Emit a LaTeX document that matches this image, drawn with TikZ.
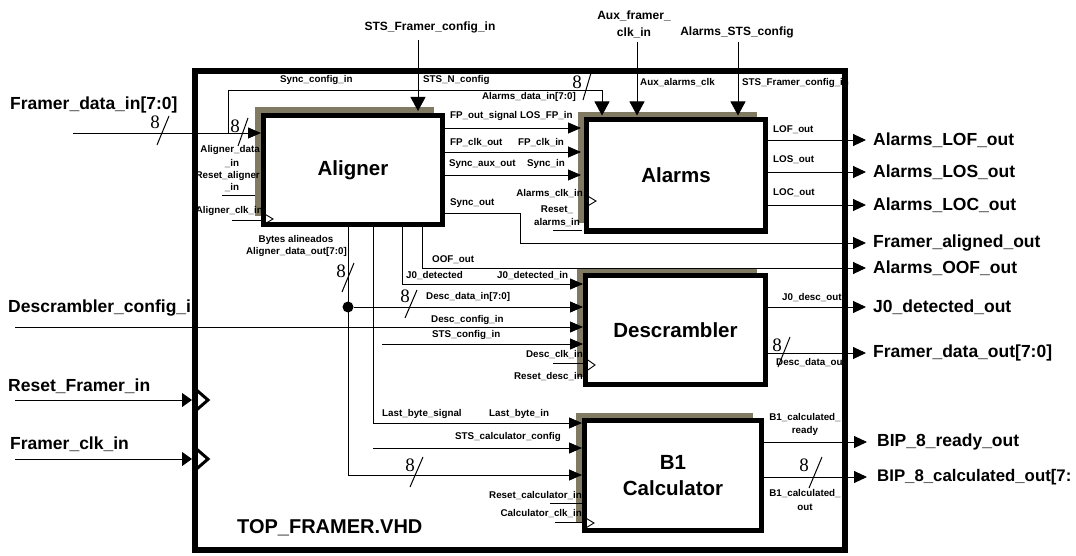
\documentclass[tikz,border=0pt]{standalone}
\usepackage{fontspec}
\setmainfont{Liberation Sans}
\newfontfamily\numfont{Liberation Serif}
\usetikzlibrary{arrows.meta,shadows}
\definecolor{shadowc}{RGB}{128,122,98}
\begin{document}
\begin{tikzpicture}[x=1pt,y=-1pt,
 sig/.style={line width=0.9pt},
 ar/.style={sig,-{Triangle[length=13pt,width=11pt]}},
 arbig/.style={sig,-{Triangle[length=13pt,width=12pt]},shorten >=7pt},
 artop/.style={sig,-{Triangle[length=14pt,width=15pt]},shorten >=2pt},
 arin/.style={sig,-{Triangle[length=10pt,width=14pt]}},
 block/.style={draw,line width=5pt,fill=white,inner sep=0pt,align=center,
   font=\fontsize{20.5}{26}\selectfont\bfseries,
   general shadow={fill=shadowc,shadow xshift=-9pt,shadow yshift=8pt}},
 outerbox/.style={draw,line width=6pt,inner sep=0pt},
 sl/.style={font=\fontsize{9.8}{13.5}\selectfont\bfseries,inner sep=0pt,align=center},
 ml/.style={font=\fontsize{12}{17}\selectfont\bfseries,inner sep=0pt,align=center},
 bl/.style={font=\fontsize{17.5}{20}\selectfont\bfseries,inner sep=0pt,anchor=west},
 bus/.style={font=\fontsize{19}{20}\selectfont\numfont,inner sep=0pt},
 slash/.style={line width=1pt},
 clk/.style={line width=0.9pt},
 clkbig/.style={line width=3pt},
 junction/.style={circle,fill,inner sep=0pt,minimum size=11pt},
]
\useasboundingbox (0,0) rectangle (1076,556);

% outer frame
\node[outerbox,minimum width=650pt,minimum height=479pt] (topf) at (520,310.5) {};

% blocks
\node[block,minimum width=179pt,minimum height=109pt] (aligner) at (353,170) {Aligner};
\node[block,minimum width=179pt,minimum height=111pt] (alarms) at (676,175.5) {Alarms};
\node[block,minimum width=180pt,minimum height=109pt] (desc) at (675.5,330) {Descrambler};
\node[block,minimum width=177pt,minimum height=110pt] (b1) at (673,475.5) {B1\\Calculator};

% top inputs
\node[ml] (stsfc) at (430,27) {STS\_Framer\_config\_in};
\node[ml] (auxclk) at (634,24) {Aux\_framer\_\\clk\_in};
\node[ml] (alsts) at (737,32) {Alarms\_STS\_config};
\coordinate (stsfc-o) at (418,40);
\coordinate (auxclk-o) at (637,42);
\coordinate (alsts-o) at (738,42);
\draw[artop] (stsfc-o) -- (aligner.north -| stsfc-o);
\draw[artop] (auxclk-o) -- (alarms.north -| auxclk-o);
\draw[artop] (alsts-o) -- (alarms.north -| alsts-o);

% Framer data in
\node[bl] (fdin) at (10,105) {Framer\_data\_in[7:0]};
\coordinate (fdin-o) at (73,133);
\coordinate (fdbr) at (228,133);
\draw[ar] (fdin-o) -- (aligner.west |- fdin-o);
\draw[artop] (fdbr) -- (228,90) -- (602,90) -- (alarms.north -| 602,0);

% Aligner -> Alarms
\foreach \yy in {128,152,175} \draw[ar,shorten >=3pt] (aligner.east |- 0,\yy) -- (alarms.west |- 0,\yy);

% outputs on right
\node[bl] (lofo) at (873,140) {Alarms\_LOF\_out};
\node[bl] (loso) at (873,172) {Alarms\_LOS\_out};
\node[bl] (loco) at (873,205) {Alarms\_LOC\_out};
\node[bl] (falo) at (873,243) {Framer\_aligned\_out};
\node[bl] (oofo) at (873,268) {Alarms\_OOF\_out};
\node[bl] (j0o) at (873,307) {J0\_detected\_out};
\node[bl] (fdo) at (873,353) {Framer\_data\_out[7:0]};
\node[bl] (bipr) at (877,442) {BIP\_8\_ready\_out};
\node[bl,font=\fontsize{16.8}{20}\selectfont\bfseries] (bipc) at (877,477) {BIP\_8\_calculated\_out[7:};

\draw[arbig] (alarms.east |- lofo.west) -- (lofo.west);
\draw[arbig] (alarms.east |- loso.west) -- (loso.west);
\draw[arbig] (alarms.east |- loco.west) -- (loco.west);
\draw[arbig] (aligner.east |- 0,213) -- (520,213) -- (520,243) -- (falo.west);
\draw[arbig] (aligner.south -| 422,0) -- (422,268) -- (oofo.west);
\draw[arbig] (desc.east |- j0o.west) -- (j0o.west);
\draw[arbig] (desc.east |- fdo.west) -- (fdo.west);
\draw[arbig,shorten >=10pt] (b1.east |- bipr.west) -- (bipr.west);
\draw[arbig,shorten >=10pt] (b1.east |- bipc.west) -- (bipc.west);

% Aligner bottom signals
\draw[ar] (aligner.south -| 402,0) -- (402,284) -- (desc.west |- 0,284);
\draw[ar] (aligner.south -| 348,0) -- (348,475) -- (b1.west |- 0,475);
\node[junction] (jd) at (348,307) {};
\draw[ar] (jd) -- (desc.west |- jd);
\draw[ar] (aligner.south -| 373,0) -- (373,423) -- (b1.west |- 0,423);
\coordinate (stscalc-o) at (373,448);
\draw[ar] (stscalc-o) -- (b1.west |- stscalc-o);
\coordinate (stsconf-o) at (382,344);
\draw[ar] (stsconf-o) -- (desc.west |- stsconf-o);

% Descrambler config in
\begin{scope}
\clip (0,0) rectangle (193,556);
\node[bl] (dcin) at (8,308) {Descrambler\_config\_in};
\end{scope}
\coordinate (dcin-o) at (15,327);
\draw[ar] (dcin-o) -- (desc.west |- dcin-o);

% left inputs
\node[bl] (rfi) at (8,386) {Reset\_Framer\_in};
\coordinate (rfi-o) at (15,400);
\draw[arin] (rfi-o) -- (topf.west |- rfi-o);
\draw[clkbig] (193,387) -- (208,400) -- (193,413);
\node[bl] (fci) at (10,444) {Framer\_clk\_in};
\coordinate (fci-o) at (15,459);
\draw[arin] (fci-o) -- (topf.west |- fci-o);
\draw[clkbig] (193,446) -- (208,459) -- (193,472);

% stubs
\coordinate (rsal-o) at (222,195);
\draw[sig,shorten >=6pt] (rsal-o) -- (aligner.west |- rsal-o);
\coordinate (alclk-o) at (232,220);
\draw[sig] (alclk-o) -- (aligner.west |- alclk-o);
\coordinate (rsam-o) at (553,230);
\draw[sig,shorten >=2pt] (rsam-o) -- (alarms.west |- rsam-o);
\coordinate (dclk-o) at (553,363);
\draw[sig] (dclk-o) -- (desc.west |- dclk-o);
\coordinate (rscal-o) at (550,503);
\draw[sig] (rscal-o) -- (b1.west |- rscal-o);
\coordinate (calclk-o) at (555,522);
\draw[sig] (calclk-o) -- (b1.west |- calclk-o);

% clock triangles
\draw[clk] (263,213) -- (273,219) -- (263,225);
\draw[clk] (586,195) -- (596,201) -- (586,207);
\draw[clk] (585,358) -- (595,365) -- (585,372);
\draw[clk] (584,517) -- (594,523) -- (584,529);

% bus markers
\node[bus] (b8a) at (155,122) {8}; \draw[slash] (157,145) -- (169,116);
\node[bus] (b8b) at (235,126) {8}; \draw[slash] (238,146) -- (248,118);
\node[bus] (b8c) at (577,82) {8};  \draw[slash] (583,100) -- (591,73);
\node[bus] (b8d) at (341,271) {8}; \draw[slash] (342,292) -- (354,263);
\node[bus] (b8e) at (405,296) {8}; \draw[slash] (405,318) -- (417,290);
\node[bus] (b8f) at (410,465) {8}; \draw[slash] (410,487) -- (423,457);
\node[bus] (b8g) at (777,345) {8}; \draw[slash] (778,367) -- (790,337);
\node[bus] (b8h) at (804,465) {8}; \draw[slash] (809,488) -- (822,457);

% small labels
\node[sl,anchor=west] (l1) at (280,80) {Sync\_config\_in};
\node[sl,anchor=west] (l2) at (423,80) {STS\_N\_config};
\node[sl,anchor=east] (l3) at (576,97) {Alarms\_data\_in[7:0]};
\node[sl,anchor=west] (l4) at (640,83) {Aux\_alarms\_clk};
\node[sl,anchor=west] (l5) at (742,83) {STS\_Framer\_config\_in};
\node[sl,anchor=west] (l6) at (450,116) {FP\_out\_signal};
\node[sl,anchor=west] (l7) at (520,116) {LOS\_FP\_in};
\node[sl,anchor=west] (l8) at (450,143) {FP\_clk\_out};
\node[sl,anchor=west] (l9) at (518,143) {FP\_clk\_in};
\node[sl,anchor=west] (l10) at (449,164) {Sync\_aux\_out};
\node[sl,anchor=west] (l11) at (527,164) {Sync\_in};
\node[sl,anchor=east] (l12) at (583,194) {Alarms\_clk\_in};
\node[sl,anchor=west] (l13) at (450,203) {Sync\_out};
\node[sl] (l14) at (557,216) {Reset\_\\alarms\_in};
\node[sl,anchor=west] (l15) at (773,130) {LOF\_out};
\node[sl,anchor=west] (l16) at (773,160) {LOS\_out};
\node[sl,anchor=west] (l17) at (773,193) {LOC\_out};
\node[sl,anchor=east] (l18) at (260,150) {Aligner\_data};
\node[sl] (l19) at (232,164) {\_in};
\node[sl,anchor=east] (l20) at (260,176) {Reset\_aligner};
\node[sl] (l21) at (232,188) {\_in};
\node[sl,anchor=east] (l22) at (263,211) {Aligner\_clk\_in};
\node[sl] (l23) at (296,240) {Bytes alineados};
\node[sl,anchor=east] (l24) at (347,252) {Aligner\_data\_out[7:0]};
\node[sl,anchor=west] (l25) at (432,260) {OOF\_out};
\node[sl,anchor=west] (l26) at (406,276) {J0\_detected};
\node[sl,anchor=west] (l27) at (497,276) {J0\_detected\_in};
\node[sl,anchor=west] (l28) at (426,297) {Desc\_data\_in[7:0]};
\node[sl,anchor=west] (l29) at (431,320) {Desc\_config\_in};
\node[sl,anchor=west] (l30) at (432,335) {STS\_config\_in};
\node[sl,anchor=east] (l31) at (583,355) {Desc\_clk\_in};
\node[sl,anchor=east] (l32) at (583,377) {Reset\_desc\_in};
\node[sl,anchor=west] (l33) at (782,298) {J0\_desc\_out};
\node[sl,anchor=west] (l34) at (776,363) {Desc\_data\_out};
\node[sl,anchor=west] (l35) at (382,414) {Last\_byte\_signal};
\node[sl,anchor=west] (l36) at (489,414) {Last\_byte\_in};
\node[sl,anchor=west] (l37) at (455,437) {STS\_calculator\_config};
\node[sl,anchor=east] (l38) at (582,496) {Reset\_calculator\_in};
\node[sl,anchor=east] (l39) at (582,514) {Calculator\_clk\_in};
\node[sl] (l40) at (805,424.5) {B1\_calculated\_\\ready};
\node[sl] (l41) at (805,500) {B1\_calculated\_\\out};

% title
\node[font=\fontsize{20}{22}\selectfont\bfseries,inner sep=0pt,anchor=west] (title) at (237,528) {TOP\_FRAMER.VHD};
\end{tikzpicture}
\end{document}
